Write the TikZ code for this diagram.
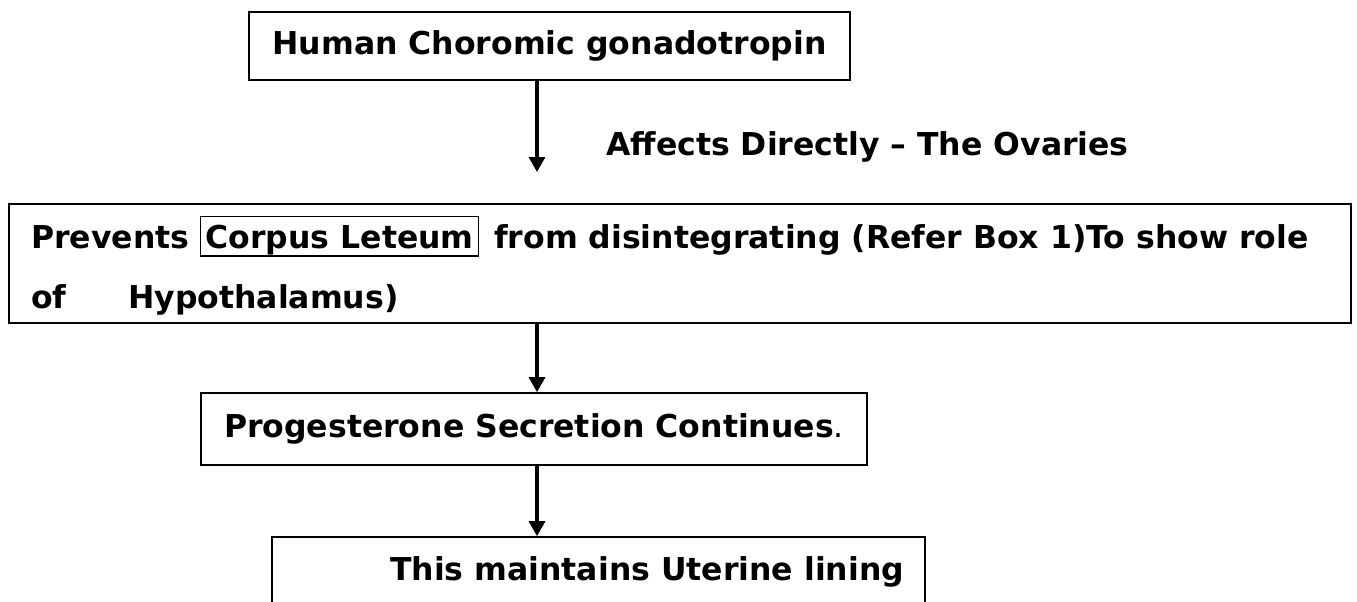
\documentclass[tikz,border=0pt]{standalone}
\usepackage{fontspec}
\setmainfont{DejaVu Sans}
\usetikzlibrary{arrows.meta}
\begin{document}
\begin{tikzpicture}[x=1pt,y=-1pt,
  frame/.style={draw,line width=1.6pt,inner sep=0pt},
  txt/.style={inner sep=0pt,font=\fontsize{31.5}{38}\selectfont\bfseries},
  wordbox/.style={draw,line width=1.3pt,inner xsep=5pt,inner ysep=0pt,text height=31.5pt,text depth=8pt},
  flow/.style={line width=3.2pt,-{Triangle[width=16pt,length=15pt]}}]
\useasboundingbox (0,0) rectangle (1357,602);
\clip (0,0) rectangle (1357,602);

% top box
\node[frame,txt,minimum width=601pt,minimum height=68pt] (hcg) at (549.5,46) {Human Choromic gonadotropin};
\node[txt,anchor=base west] (affects) at (606,155) {Affects Directly – The Ovaries};

% wide box with two lines of text
\node[frame,minimum width=1342pt,minimum height=119pt] (corpus) at (680,263.5) {};
\node[txt,anchor=base west] (prev) at (31,248) {Prevents};
\node[txt,wordbox,anchor=base west] (cl) at (200,248) {Corpus Leteum};
\node[txt,anchor=base west] (rest) at (494,248) {from disintegrating (Refer Box 1)To show role};
\node[txt,anchor=base west] (of) at (31,308) {of};
\node[txt,anchor=base west] (hypo) at (128,308) {Hypothalamus)};

% progesterone box
\node[frame,txt,minimum width=666pt,minimum height=72pt] (prog) at (534,429) {Progesterone Secretion Continues{\mdseries .}};

% bottom box, running off the page
\node[frame,minimum width=653pt,minimum height=103pt] (uterine) at (598.5,588.5) {};
\node[txt,anchor=base west] (lining) at (390,580) {This maintains Uterine lining};

% connectors
\coordinate (spine) at (537,0);
\coordinate (tip1) at (537,172);
\draw[flow] (hcg.south -| spine) -- (tip1);
\draw[flow] (corpus.south -| spine) -- (prog.north -| spine);
\draw[flow] (prog.south -| spine) -- (uterine.north -| spine);
\end{tikzpicture}
\end{document}
